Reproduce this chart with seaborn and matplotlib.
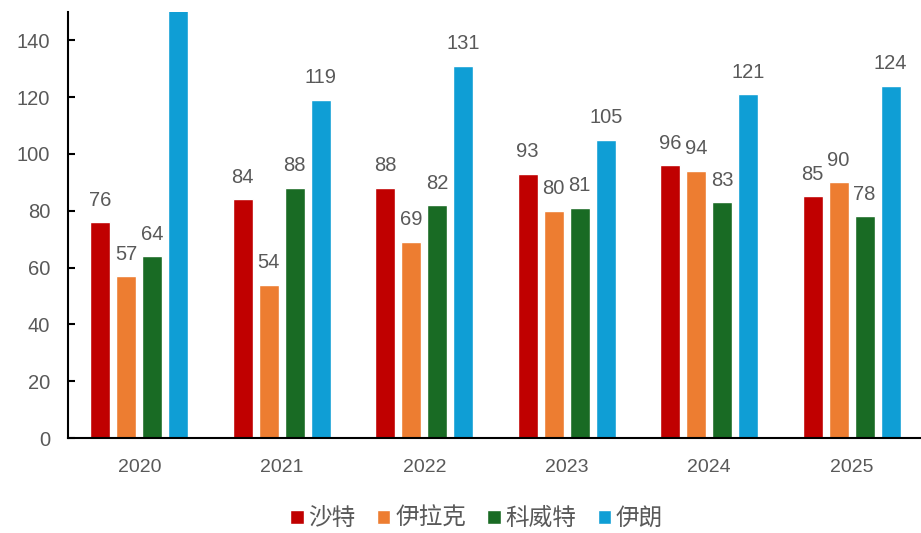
import pandas as pd
import matplotlib
matplotlib.use("Agg")
import matplotlib.pyplot as plt
import seaborn as sns

# Data
years = ["2020", "2021", "2022", "2023", "2024", "2025"]
countries = ["沙特", "伊拉克", "科威特", "伊朗"]
saudi = [76, 84, 88, 93, 96, 85]
iraq = [57, 54, 69, 80, 94, 90]
kuwait = [64, 88, 82, 81, 83, 78]
iran = [158, 119, 131, 105, 121, 124]   # 2020 runs off the top of the axis
colors = ["#C00000", "#ED7D31", "#196B24", "#0F9ED5"]

df = pd.DataFrame({"year": years * 4,
                   "country": [c for c in countries for _ in years],
                   "value": saudi + iraq + kuwait + iran})

sns.set_theme(style="white")
plt.rcParams["font.family"] = ["Liberation Sans", "Noto Sans CJK SC", "DejaVu Sans"]
grey = "#595959"
ymax = 150

fig = plt.figure(figsize=(9.21, 5.33), dpi=100)
ax = fig.add_axes([0.074, 0.178, 0.928, 0.8])

sns.barplot(data=df, x="year", y="value", hue="country", palette=colors,
            saturation=1, width=0.73, gap=0.23, ax=ax, legend=True)

# value labels (skip anything clipped by the axis top)
for cont in ax.containers:
    vals = cont.datavalues
    labs = ["" if v > ymax else f"{v:.0f}" for v in vals]
    ax.bar_label(cont, labels=labs, padding=9, fontsize=14.5, color=grey)

ax.set_ylim(0, ymax)
ax.set_xlim(-0.5, 5.5)
ax.set_yticks(range(0, 141, 20))
ax.set_xlabel("")
ax.set_ylabel("")

for s in ["top", "right"]:
    ax.spines[s].set_visible(False)
for s in ["left", "bottom"]:
    ax.spines[s].set_color("black")
    ax.spines[s].set_linewidth(1.5)

ax.tick_params(axis="y", direction="in", length=5, width=1.5, color="black",
               labelsize=14.5, labelcolor=grey, left=True, pad=13)
ax.set_xticks([i - 0.5 for i in range(7)], minor=True)
ax.tick_params(axis="x", which="minor", direction="out", length=6, width=1.5, color="black")
ax.tick_params(axis="x", which="major", length=0, labelsize=14, labelcolor=grey, pad=15)

ax.legend(loc="center", bbox_to_anchor=(0.478, -0.19), ncol=4, frameon=False,
          fontsize=17, labelcolor=grey, handlelength=0.57, handleheight=0.57,
          handletextpad=0.2, columnspacing=0.9)

fig.savefig("out.png", dpi=100)
